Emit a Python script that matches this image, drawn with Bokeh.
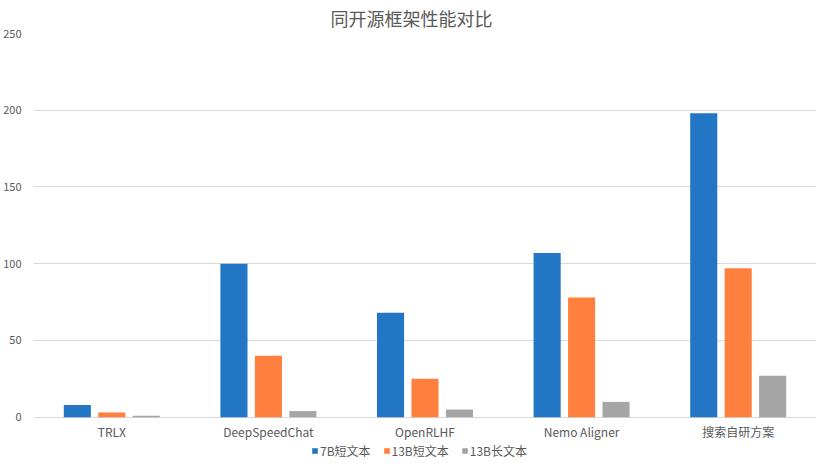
from bokeh.plotting import figure
from bokeh.models import ColumnDataSource, FactorRange, Legend, LegendItem, FixedTicker, Range1d
from bokeh.transform import dodge
from bokeh.embed import file_html
from bokeh.resources import INLINE

categories = ["TRLX", "DeepSpeedChat", "OpenRLHF", "Nemo Aligner", "搜索自研方案"]
series_names = ["7B短文本", "13B短文本", "13B长文本"]
s7b_short = [8, 100, 68, 107, 198]
s13b_short = [3, 40, 25, 78, 97]
s13b_long = [1, 4, 5, 10, 27]
y_ticks = [0, 50, 100, 150, 200, 250]

colors = ["#2276C4", "#FF7F3F", "#A5A5A5"]
FONT = "Noto Sans CJK SC"
TXT = "#595959"

src = ColumnDataSource(dict(cat=categories, a=s7b_short, b=s13b_short, c=s13b_long))

# frame extends below zero to hold the category labels and the legend
p = figure(x_range=FactorRange(*categories), y_range=Range1d(-28.2, 250),
           width=816, height=460, output_backend="svg", toolbar_location=None,
           title="同开源框架性能对比")
p.min_border_left = 25
p.min_border_right = 0
p.min_border_top = 30
p.min_border_bottom = 0
p.outline_line_color = None
p.background_fill_color = "white"

p.title.align = "left"
p.title.text_font = FONT
p.title.text_font_size = "18px"
p.title.text_font_style = "normal"
p.title.text_color = TXT
p.title.standoff = 5
p.title.offset = 297

renderers = []
for col, off, color in zip(["a", "b", "c"], [-0.22, 0.0, 0.22], colors):
    r = p.vbar(x=dodge("cat", off, range=p.x_range), top=col, width=0.173,
               source=src, color=color, line_color=None)
    renderers.append(r)

p.xgrid.grid_line_color = None
p.ygrid.grid_line_color = "#D9D9D9"
p.ygrid.grid_line_width = 1
p.ygrid.ticker = FixedTicker(ticks=y_ticks)

p.yaxis.ticker = FixedTicker(ticks=y_ticks)
p.yaxis.axis_line_color = None
p.yaxis.major_tick_line_color = None
p.yaxis.minor_tick_line_color = None
p.yaxis.major_label_text_font = FONT
p.yaxis.major_label_text_font_size = "11px"
p.yaxis.major_label_text_color = TXT
p.yaxis.major_label_standoff = 6

p.xaxis.fixed_location = 0
p.xaxis.axis_line_color = None
p.xaxis.major_tick_line_color = None
p.xaxis.minor_tick_line_color = None
p.xaxis.major_label_text_font = FONT
p.xaxis.major_label_text_font_size = "12px"
p.xaxis.major_label_text_color = TXT
p.xaxis.major_label_standoff = 0

legend = Legend(items=[LegendItem(label=n, renderers=[r]) for n, r in zip(series_names, renderers)],
                orientation="horizontal", location=(278, 1))
legend.label_text_font = FONT
legend.label_text_font_size = "12px"
legend.label_text_color = TXT
legend.glyph_width = 7
legend.glyph_height = 7
legend.label_standoff = 2
legend.spacing = 12
legend.label_height = 12
legend.padding = 0
legend.margin = 0
legend.border_line_color = None
legend.background_fill_alpha = 0
p.add_layout(legend)

open("out.html", "w").write(file_html(p, INLINE))
